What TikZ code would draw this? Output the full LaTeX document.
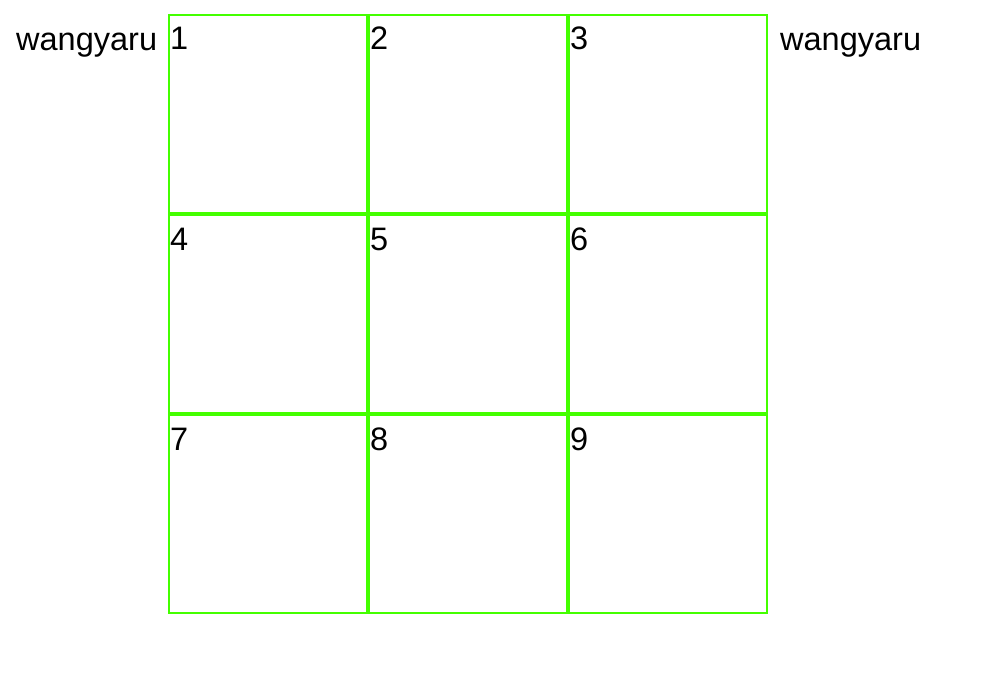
\documentclass[tikz,border=0pt]{standalone}
\usepackage{fontspec}
\setmainfont{Liberation Sans}
\definecolor{gridgreen}{RGB}{68,255,0}
\tikzset{
  cell/.style={draw=gridgreen, line width=2pt, minimum size=198pt, inner sep=0pt},
  celltext/.style={anchor=base west, inner sep=0pt, font=\fontsize{32.5}{39}\selectfont},
}

\begin{document}
\begin{tikzpicture}[x=1pt,y=-1pt]
  \useasboundingbox (0,0) rectangle (994,690);
  % the nine boxes, numbered row by row
  \foreach \row in {0,1,2} {
    \foreach \col in {0,1,2} {
      \pgfmathtruncatemacro\n{3*\row+\col+1}
      \node[cell] (cell\n) at (268+200*\col, 114+200*\row) {};
      \node[celltext] (num\n) at (170+200*\col, 50+200*\row) {\n};
    }
  }
  \node[celltext] (nameleft)  at (16,51)  {wangyaru};
  \node[celltext] (nameright) at (780,51) {wangyaru};
\end{tikzpicture}
\end{document}
